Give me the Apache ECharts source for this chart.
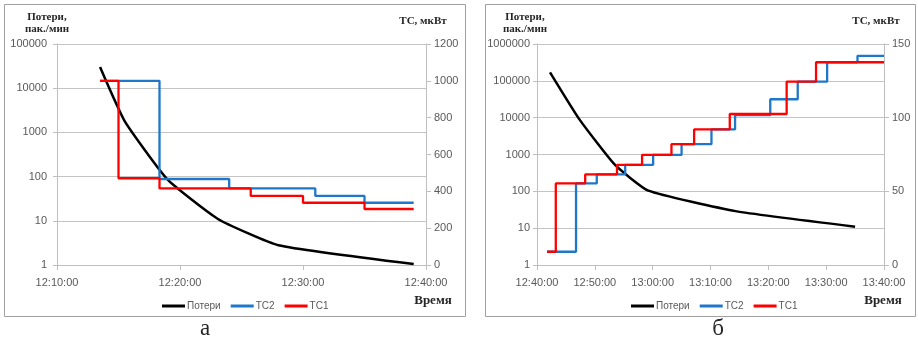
<!DOCTYPE html>
<html><head><meta charset="utf-8">
<script src="https://cdn.jsdelivr.net/npm/echarts@6/dist/echarts.min.js"></script>
<style>html,body{margin:0;padding:0;background:#fff}#c{width:918px;height:339px}</style>
</head><body><div id="c"></div>
<script>
// ---------- DATA ----------
const seriesNames = ['Потери', 'ТС2', 'ТС1'];

// Chart "а"
const aRange = ['12:10:00', '12:40:00'];
const aLossTimes = ['12:13:30', '12:15:30', '12:19:00', '12:23:05', '12:28:00', '12:39:00'];
const aLoss = [30000, 1800, 85, 11, 2.8, 1.05];
const aTC2Times = ['12:13:30', '12:18:20', '12:24:00', '12:31:00', '12:35:00', '12:39:00'];
const aTC2 = [1000, 467, 416, 375, 338, 338];
const aTC1Times = ['12:13:30', '12:15:00', '12:18:20', '12:25:45', '12:30:00', '12:35:00', '12:39:00'];
const aTC1 = [1000, 471, 416, 375, 338, 304, 304];

// Chart "б"
const bRange = ['12:40:00', '13:40:00'];
const bLossTimes = ['12:42:15', '12:47:20', '12:53:30', '12:59:15', '13:14:20', '13:35:00'];
const bLoss = [170000, 9000, 520, 104, 29, 11];
const bTC2Times = ['12:41:45', '12:46:45', '12:50:20', '12:55:15', '13:00:05', '13:05:00', '13:10:10',
                   '13:14:15', '13:20:20', '13:25:05', '13:30:10', '13:35:25', '13:40:00'];
const bTC2 = [9, 55.4, 61.5, 68, 74.7, 82, 92, 101.7, 112.5, 124.4, 137.6, 142, 142];
const bTC1Times = ['12:41:45', '12:43:15', '12:48:20', '12:53:50', '12:58:10', '13:03:15', '13:07:10',
                   '13:13:20', '13:23:10', '13:28:15', '13:40:00'];
const bTC1 = [9, 55.4, 61.5, 68, 74.7, 82, 92, 102.5, 124.4, 137.6, 137.6];

const aLossMax = 100000, bLossMax = 1000000;
const aTCMax = 1200, aTCStep = 200;
const bTCMax = 150, bTCStep = 50;
const timeStepSec = 600;

// ---------- HELPERS ----------
const toSec = s => { const p = s.split(':').map(Number); return p[0] * 3600 + p[1] * 60 + p[2]; };
const pad = n => (n < 10 ? '0' : '') + n;
const fmtTime = v => { v = Math.round(v); return Math.floor(v / 3600) + ':' + pad(Math.floor(v % 3600 / 60)) + ':' + pad(v % 60); };
const pairs = (t, v) => t.map((s, i) => [toSec(s), v[i]]);

const LBL = { color: '#595959', fontSize: 11, fontFamily: 'Liberation Sans, Arial, sans-serif' };
const AX = '#BFBFBF';
const COLORS = { 'Потери': '#000000', 'ТС2': '#1F77C9', 'ТС1': '#FF0000' };

function xAx(grid, range) {
  return {
    gridIndex: grid, type: 'value', min: toSec(range[0]), max: toSec(range[1]), interval: timeStepSec,
    axisLine: { show: true, onZero: false, lineStyle: { color: AX } },
    axisTick: { show: true, length: 5, lineStyle: { color: AX } },
    splitLine: { show: false },
    axisLabel: Object.assign({ margin: 12, formatter: fmtTime, showMinLabel: true, showMaxLabel: true }, LBL)
  };
}
function yLog(grid, max, margin) {
  return {
    gridIndex: grid, type: 'log', logBase: 10, min: 1, max: max, position: 'left',
    axisLine: { show: true, lineStyle: { color: AX } },
    axisTick: { show: true, length: 4, lineStyle: { color: AX } },
    splitLine: { show: true, lineStyle: { color: '#C4C4C4', width: 1 } },
    minorTick: { show: false },
    axisLabel: Object.assign({ margin: margin, formatter: v => String(Math.round(v)) }, LBL)
  };
}
function yVal(grid, max, step) {
  return {
    gridIndex: grid, type: 'value', min: 0, max: max, interval: step, position: 'right',
    axisLine: { show: true, lineStyle: { color: AX } },
    axisTick: { show: true, length: 5, lineStyle: { color: AX } },
    splitLine: { show: false },
    axisLabel: Object.assign({ margin: 8, formatter: v => String(v) }, LBL)
  };
}
function lossSeries(xi, yi, data) {
  return { name: 'Потери', type: 'line', xAxisIndex: xi, yAxisIndex: yi, data: data, smooth: 0.15,
    showSymbol: false, symbol: 'none', lineStyle: { color: COLORS['Потери'], width: 2.5, join: 'round' }, itemStyle: { color: COLORS['Потери'] }, z: 2 };
}
function stepSeries(name, xi, yi, data, z) {
  return { name: name, type: 'line', xAxisIndex: xi, yAxisIndex: yi, data: data, step: 'end',
    showSymbol: false, symbol: 'none', lineStyle: { color: COLORS[name], width: 2.3 }, itemStyle: { color: COLORS[name] }, z: z };
}
function legend(left) {
  return { data: seriesNames, left: left, top: 296, icon: 'rect', itemWidth: 23, itemHeight: 3, itemGap: 10,
    textStyle: { color: '#595959', fontSize: 10, fontFamily: 'Liberation Sans, Arial, sans-serif', padding: [0, 0, 0, -3] },
    selectedMode: false };
}
const titleFont = 'bold 11px "Liberation Serif", "Times New Roman", serif';
function txt(x, y, text, font, align) {
  return { type: 'text', x: x, y: y, silent: true,
    style: { text: text, font: font, fill: '#262626', align: align || 'center', verticalAlign: 'middle', lineHeight: 12 } };
}
function box(x1, y1, x2, y2) {
  return { type: 'rect', silent: true, shape: { x: x1 + 0.5, y: y1 + 0.5, width: x2 - x1, height: y2 - y1 },
    style: { fill: null, stroke: '#A0A0A0', lineWidth: 1 } };
}

const chart = echarts.init(document.getElementById('c'), null, { renderer: 'canvas' });
chart.setOption({
  animation: false,
  backgroundColor: '#ffffff',
  grid: [
    { left: 57, top: 44, width: 369, height: 221, containLabel: false },
    { left: 537, top: 44, width: 347, height: 221, containLabel: false }
  ],
  xAxis: [xAx(0, aRange), xAx(1, bRange)],
  yAxis: [yLog(0, aLossMax, 10), yVal(0, aTCMax, aTCStep), yLog(1, bLossMax, 7), yVal(1, bTCMax, bTCStep)],
  legend: [legend(157), legend(626)],
  series: [
    lossSeries(0, 0, pairs(aLossTimes, aLoss)),
    stepSeries('ТС2', 0, 1, pairs(aTC2Times, aTC2), 3),
    stepSeries('ТС1', 0, 1, pairs(aTC1Times, aTC1), 4),
    lossSeries(1, 2, pairs(bLossTimes, bLoss)),
    stepSeries('ТС2', 1, 3, pairs(bTC2Times, bTC2), 3),
    stepSeries('ТС1', 1, 3, pairs(bTC1Times, bTC1), 4)
  ],
  graphic: [
    box(4, 4, 465, 316),
    box(485, 4, 915, 316),
    txt(47, 23, 'Потери,\nпак./мин', titleFont),
    txt(423, 21, 'ТС, мкВт', titleFont),
    txt(433, 301, 'Время', 'bold 13px "Liberation Serif", "Times New Roman", serif'),
    txt(525, 23, 'Потери,\nпак./мин', titleFont),
    txt(876, 21, 'ТС, мкВт', titleFont),
    txt(883, 301, 'Время', 'bold 13px "Liberation Serif", "Times New Roman", serif'),
    txt(205, 329, 'а', '23px "Liberation Serif", "Times New Roman", serif'),
    txt(718, 329, 'б', '23px "Liberation Serif", "Times New Roman", serif')
  ]
});
</script>
</body></html>
